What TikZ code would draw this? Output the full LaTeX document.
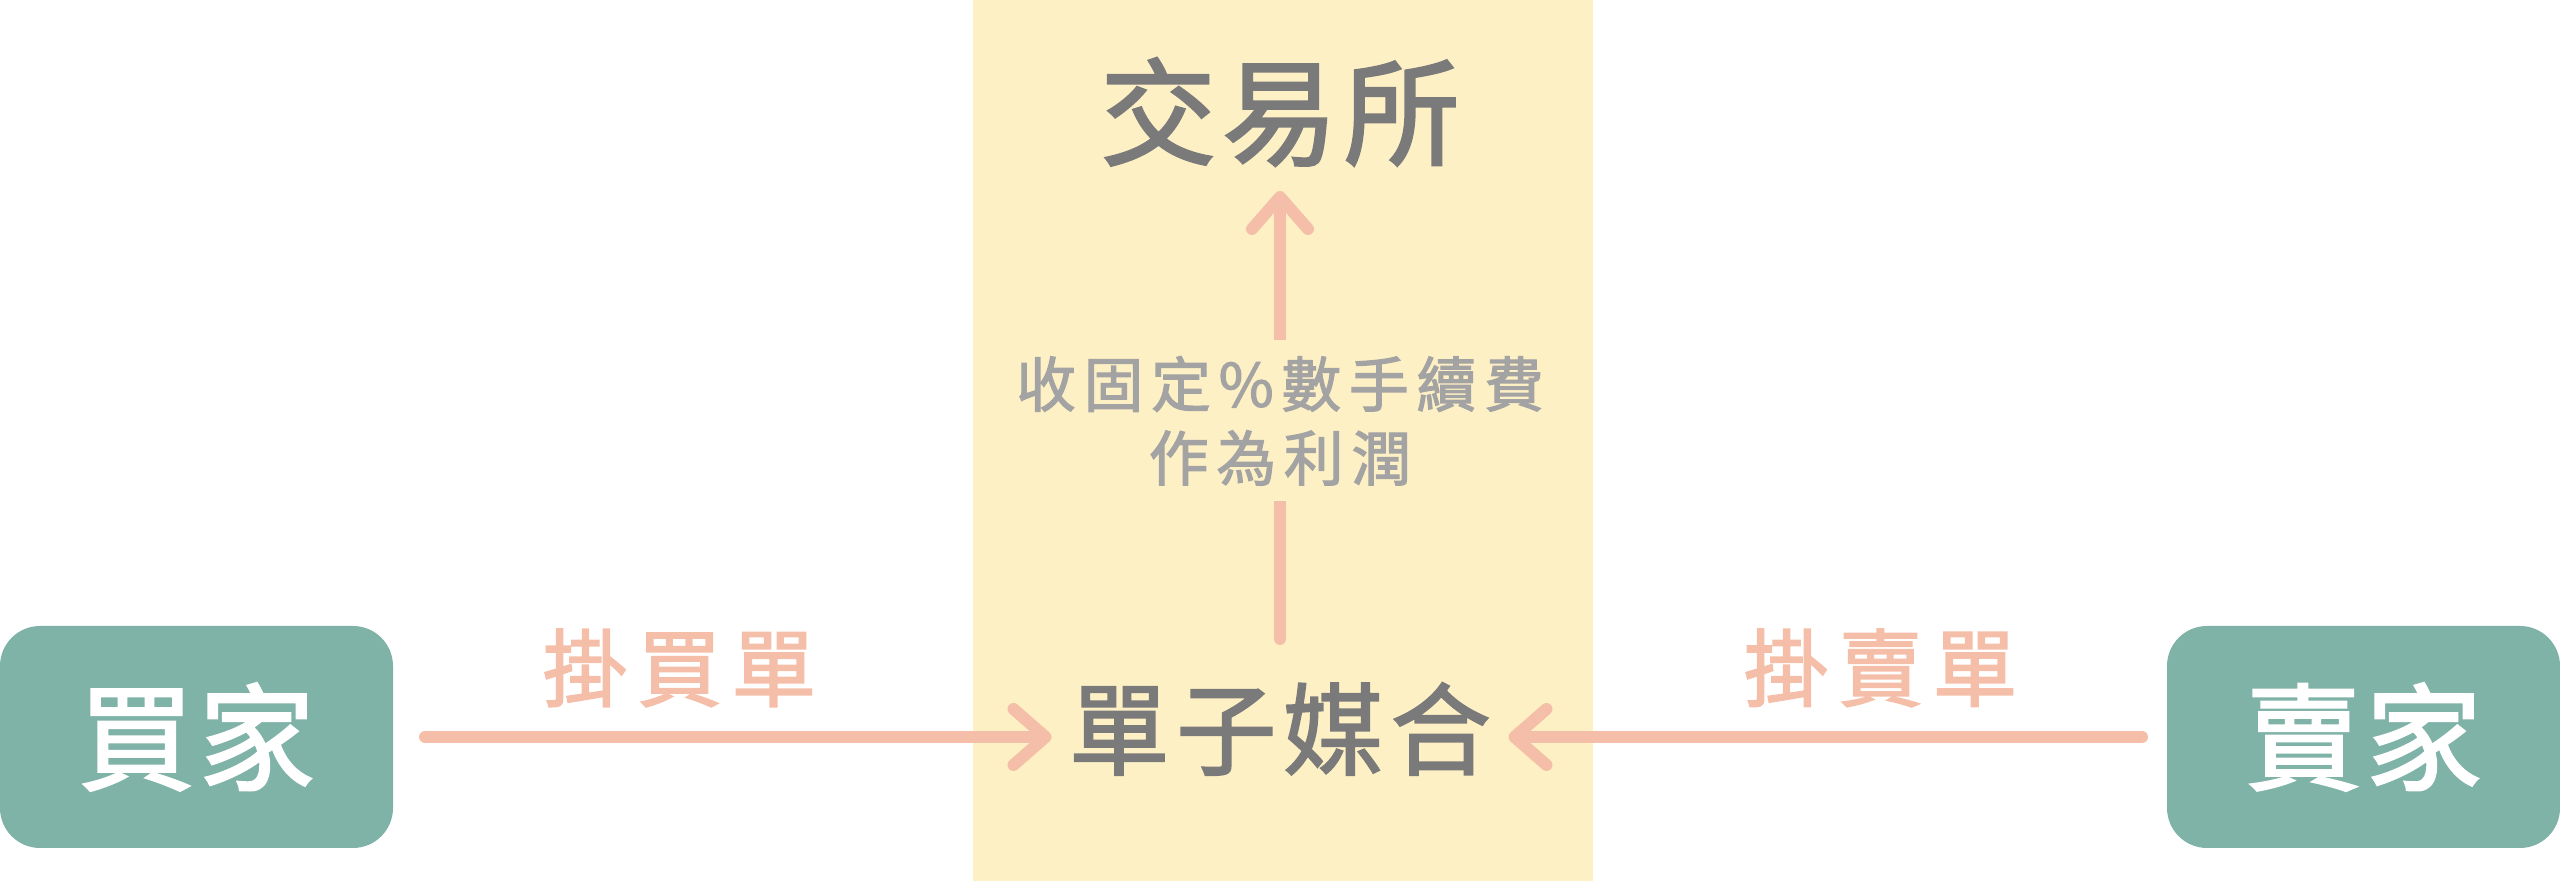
\documentclass[tikz,border=0pt]{standalone}
\usepackage{fontspec}
\newfontfamily\cjk{Noto Sans CJK TC}[FakeBold=2]
\usepackage{xcolor}
\usetikzlibrary{arrows.meta,positioning}
\definecolor{boxteal}{HTML}{7FB3A8}
\definecolor{bandyellow}{HTML}{FEF0C5}
\definecolor{flowpink}{HTML}{F4BEA8}
\definecolor{textgray}{HTML}{7A7A7A}
\definecolor{notegray}{HTML}{A3A3A3}
\begin{document}
\begin{tikzpicture}[x=1cm,y=1cm,
  party/.style={fill=boxteal,rounded corners=0.4cm,minimum width=3.93cm,minimum height=2.22cm,inner sep=0pt,outer sep=0pt,text=white,
    font=\cjk\fontsize{33}{36}\selectfont\addfontfeature{LetterSpace=4}},
  hub/.style={inner sep=0pt,outer sep=0pt,text=textgray,minimum width=4.57cm,minimum height=1.80cm,
    font=\cjk\fontsize{28.5}{32}\selectfont\addfontfeature{LetterSpace=7}},
  flow/.style={draw=flowpink,line width=0.12cm,line cap=round,-{Straight Barb[length=0.32cm,width=0.56cm,round]}},
  tag/.style={inner sep=0pt,text=flowpink,yshift=0.69cm,font=\cjk\fontsize{24}{28}\selectfont\addfontfeature{LetterSpace=12}},
  note/.style={inner sep=0pt,fill=bandyellow,text=notegray,align=center,minimum height=1.61cm,
    font=\cjk\fontsize{17}{21}\selectfont\addfontfeature{LetterSpace=13}}]
  \useasboundingbox (0,0) rectangle (25.6,8.81);
  \fill[bandyellow] (9.73,0) rectangle (15.93,8.81);
  \node[party] (buyer) at (1.965,1.44) {買家};
  \node[party] (seller) at (23.635,1.44) {賣家};
  \node[hub] (match) at (12.80,1.52) {單子媒合};
  \node[hub,minimum height=1.58cm,font=\cjk\fontsize{33}{36}\selectfont\addfontfeature{LetterSpace=5}] (exchange) at (12.80,7.69) {交易所};
  \draw[flow,shorten <=0.32cm] (buyer.east) -- (buyer.east -| match.west) node[tag,pos=.435] {掛買單};
  \draw[flow,shorten <=0.25cm] (seller.west) -- (seller.west -| match.east) node[tag,pos=.435] {掛賣單};
  \draw[flow] (match) -- (exchange) node[note,pos=.487] {收固定\%數手續費\\作為利潤};
\end{tikzpicture}
\end{document}
